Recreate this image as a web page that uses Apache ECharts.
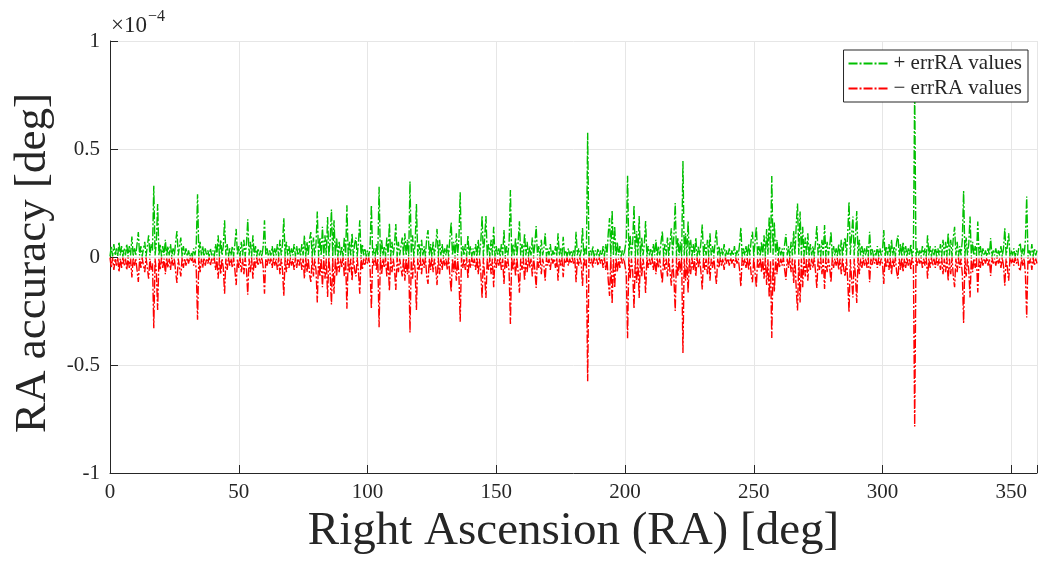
<!DOCTYPE html>
<html><head><meta charset="utf-8">
<script src="https://cdn.jsdelivr.net/npm/echarts@6/dist/echarts.min.js"></script>
<style>html,body{margin:0;padding:0;background:#fff}#c{width:1040px;height:561px}</style>
</head><body><div id="c"></div>
<script>
// RA grid step (deg) and |errRA| values in units of 1e-4 deg
const raStepDeg = 0.5;
const errRA = [
0.003,0.05,0.003,0.06,0.007,0.04,0.003,0.07,0.007,0.05,0.003,0.04,0.007,0.06,0.003,0.05,0.007,0.095,0.003,0.04,
0.007,0.06,0.115,0.007,0.05,0.003,0.04,0.07,0.003,0.05,0.10,0.007,0.06,0.03,0.33,0.007,0.07,0.245,0.007,0.06,
0.003,0.05,0.007,0.08,0.003,0.05,0.007,0.06,0.003,0.04,0.007,0.07,0.12,0.007,0.05,0.09,0.003,0.05,0.007,0.04,
0.003,0.03,0.003,0.02,0.003,0.04,0.007,0.06,0.29,0.003,0.07,0.007,0.05,0.003,0.04,0.007,0.03,0.003,0.04,0.007,
0.03,0.003,0.06,0.007,0.10,0.003,0.08,0.007,0.05,0.17,0.007,0.06,0.003,0.04,0.007,0.05,0.003,0.06,0.13,0.007,
0.05,0.003,0.07,0.007,0.08,0.003,0.06,0.175,0.007,0.07,0.003,0.10,0.007,0.05,0.003,0.04,0.007,0.03,0.003,0.05,
0.17,0.007,0.04,0.003,0.03,0.007,0.05,0.003,0.04,0.007,0.06,0.003,0.08,0.007,0.06,0.18,0.003,0.07,0.007,0.05,
0.003,0.04,0.007,0.06,0.003,0.05,0.007,0.04,0.003,0.06,0.007,0.10,0.003,0.07,0.007,0.08,0.115,0.003,0.09,0.007,
0.06,0.21,0.003,0.09,0.007,0.14,0.003,0.10,0.007,0.185,0.003,0.08,0.22,0.003,0.17,0.007,0.09,0.003,0.07,0.007,
0.05,0.003,0.09,0.007,0.24,0.003,0.07,0.007,0.11,0.003,0.06,0.09,0.003,0.07,0.17,0.003,0.06,0.007,0.04,0.003,
0.03,0.003,0.05,0.24,0.007,0.04,0.003,0.06,0.007,0.325,0.003,0.08,0.007,0.05,0.003,0.09,0.007,0.157,0.003,0.07,
0.007,0.06,0.153,0.003,0.07,0.007,0.05,0.09,0.003,0.11,0.007,0.08,0.003,0.35,0.007,0.10,0.003,0.06,0.245,0.007,
0.06,0.003,0.08,0.007,0.05,0.003,0.09,0.125,0.007,0.06,0.003,0.07,0.007,0.05,0.13,0.003,0.08,0.007,0.06,0.003,
0.04,0.007,0.06,0.003,0.09,0.16,0.007,0.07,0.003,0.11,0.007,0.08,0.30,0.003,0.05,0.007,0.06,0.003,0.10,0.007,
0.05,0.003,0.04,0.007,0.06,0.003,0.08,0.007,0.07,0.19,0.003,0.09,0.19,0.007,0.06,0.003,0.08,0.007,0.14,0.003,
0.05,0.007,0.04,0.003,0.06,0.007,0.125,0.003,0.05,0.007,0.07,0.31,0.003,0.06,0.007,0.09,0.003,0.07,0.165,0.007,
0.06,0.003,0.11,0.007,0.07,0.003,0.05,0.007,0.09,0.003,0.06,0.143,0.007,0.05,0.003,0.08,0.007,0.04,0.11,0.003,
0.04,0.007,0.06,0.003,0.03,0.007,0.05,0.003,0.11,0.007,0.04,0.003,0.094,0.007,0.03,0.003,0.04,0.007,0.03,0.003,
0.03,0.003,0.117,0.007,0.04,0.003,0.03,0.134,0.003,0.04,0.007,0.575,0.003,0.03,0.007,0.05,0.003,0.03,0.007,0.04,
0.003,0.03,0.007,0.05,0.003,0.06,0.007,0.11,0.18,0.003,0.217,0.007,0.143,0.003,0.07,0.007,0.05,0.003,0.03,0.007,
0.04,0.08,0.376,0.003,0.10,0.007,0.07,0.24,0.003,0.12,0.007,0.19,0.003,0.09,0.007,0.06,0.167,0.003,0.05,0.007,
0.04,0.003,0.06,0.007,0.08,0.003,0.05,0.007,0.07,0.12,0.003,0.06,0.007,0.09,0.003,0.07,0.133,0.007,0.10,0.25,
0.003,0.09,0.007,0.07,0.003,0.444,0.007,0.11,0.003,0.165,0.007,0.08,0.003,0.06,0.007,0.09,0.003,0.05,0.007,0.07,
0.15,0.003,0.06,0.007,0.08,0.003,0.11,0.007,0.05,0.003,0.07,0.125,0.007,0.05,0.003,0.04,0.007,0.06,0.003,0.03,
0.007,0.04,0.003,0.03,0.007,0.05,0.003,0.03,0.007,0.06,0.137,0.003,0.04,0.007,0.05,0.003,0.06,0.007,0.08,0.117,
0.003,0.07,0.14,0.007,0.05,0.003,0.07,0.007,0.10,0.003,0.13,0.01,0.187,0.02,0.375,0.01,0.16,0.007,0.08,0.003,
0.05,0.007,0.04,0.003,0.06,0.106,0.007,0.05,0.003,0.07,0.007,0.12,0.01,0.15,0.248,0.01,0.21,0.007,0.14,0.003,
0.09,0.007,0.11,0.003,0.06,0.007,0.05,0.003,0.07,0.143,0.007,0.06,0.003,0.08,0.007,0.148,0.003,0.07,0.007,0.05,
0.117,0.003,0.05,0.007,0.04,0.003,0.06,0.007,0.08,0.003,0.06,0.09,0.007,0.11,0.256,0.01,0.10,0.187,0.007,0.09,
0.213,0.003,0.08,0.007,0.05,0.003,0.04,0.007,0.05,0.003,0.117,0.007,0.04,0.003,0.03,0.007,0.05,0.003,0.04,0.007,
0.03,0.125,0.003,0.05,0.007,0.06,0.003,0.08,0.007,0.05,0.003,0.07,0.10,0.007,0.06,0.003,0.07,0.007,0.05,0.003,
0.04,0.007,0.06,0.003,0.03,0.785,0.003,0.04,0.007,0.03,0.003,0.05,0.007,0.04,0.003,0.10,0.007,0.05,0.003,0.04,
0.007,0.05,0.003,0.04,0.007,0.06,0.003,0.08,0.007,0.07,0.003,0.11,0.007,0.08,0.003,0.09,0.14,0.007,0.07,0.003,
0.05,0.007,0.08,0.305,0.003,0.09,0.007,0.06,0.187,0.003,0.07,0.007,0.05,0.003,0.164,0.007,0.05,0.003,0.04,0.007,
0.03,0.003,0.04,0.007,0.088,0.003,0.03,0.007,0.04,0.003,0.03,0.007,0.05,0.003,0.04,0.133,0.007,0.05,0.11,0.003,
0.03,0.007,0.04,0.003,0.03,0.007,0.05,0.065,0.003,0.04,0.007,0.08,0.28,0.003,0.03,0.007,0.06,0.003,0.04,0.007,
0.03
];
const xTickValues = [0, 50, 100, 150, 200, 250, 300, 350];
const yTickValues = [-1, -0.5, 0, 0.5, 1];
const seriesNames = ['+ errRA values', '\u2212 errRA values'];
const yScaleLabel = ['\u00d710', '\u22124'];
const xTitle = 'Right Ascension (RA) [deg]';
const yTitle = 'RA accuracy [deg]';

const FONT = '"Liberation Serif", "Times New Roman", serif';
const TXT = '#262626';
const plusData = errRA.map((v, i) => [i * raStepDeg, v]);
const minusData = errRA.map((v, i) => [i * raStepDeg, -v]);

const chart = echarts.init(document.getElementById('c'), null, {renderer: 'canvas'});
chart.setOption({
  animation: false,
  backgroundColor: '#ffffff',
  title: [
    {text: yScaleLabel[0], left: 111, top: 14, textStyle: {fontFamily: FONT, fontSize: 23, fontWeight: 'normal', color: TXT}, padding: 0},
    {text: yScaleLabel[1], left: 148, top: 9, textStyle: {fontFamily: FONT, fontSize: 16, fontWeight: 'normal', color: TXT}, padding: 0}
  ],
  grid: {left: 110, top: 41, width: 928, height: 432, containLabel: false},
  legend: {
    orient: 'vertical', right: 12, top: 50,
    data: seriesNames,
    itemWidth: 40, itemHeight: 12, itemGap: 4,
    padding: [3, 6, 3, 4],
    itemStyle: {opacity: 0},
    backgroundColor: '#ffffff', borderColor: '#262626', borderWidth: 1, borderRadius: 0,
    textStyle: {fontFamily: FONT, fontSize: 21, color: TXT},
    z: 10
  },
  xAxis: {
    type: 'value', min: 0, max: 360, interval: 50,
    name: xTitle, nameLocation: 'middle', nameGap: 35,
    nameTextStyle: {fontFamily: FONT, fontSize: 47, color: TXT},
    axisLine: {show: true, onZero: false, lineStyle: {color: TXT, width: 1}},
    axisTick: {show: true, inside: true, length: 8, lineStyle: {color: TXT}},
    axisLabel: {fontFamily: FONT, fontSize: 21, color: TXT, margin: 9,
      formatter: v => xTickValues.includes(v) ? String(v) : ''},
    splitLine: {show: true, lineStyle: {color: '#e6e6e6', width: 1}}
  },
  yAxis: {
    type: 'value', min: -1, max: 1, interval: 0.5,
    name: yTitle, nameLocation: 'middle', nameGap: 50, nameRotate: 90,
    nameTextStyle: {fontFamily: FONT, fontSize: 45, color: TXT, padding: [0, 12, 0, 0]},
    axisLine: {show: true, onZero: false, lineStyle: {color: TXT, width: 1}},
    axisTick: {show: true, inside: true, length: 8, lineStyle: {color: TXT}},
    axisLabel: {fontFamily: FONT, fontSize: 21, color: TXT, margin: 10,
      formatter: v => yTickValues.includes(v) ? String(v) : ''},
    splitLine: {show: true, lineStyle: {color: '#e6e6e6', width: 1}}
  },
  series: [
    {
      name: seriesNames[0], type: 'line', data: plusData,
      symbol: 'none', showSymbol: false, sampling: null,
      lineStyle: {color: '#00bf00', width: 1.4, type: [9, 2, 2, 2]},
      itemStyle: {color: '#00bf00'},
      z: 2
    },
    {
      name: seriesNames[1], type: 'line', data: minusData,
      symbol: 'none', showSymbol: false, sampling: null,
      lineStyle: {color: '#ff0000', width: 1.4, type: [9, 2, 2, 2]},
      itemStyle: {color: '#ff0000'},
      z: 3
    }
  ]
});
</script>
</body></html>
